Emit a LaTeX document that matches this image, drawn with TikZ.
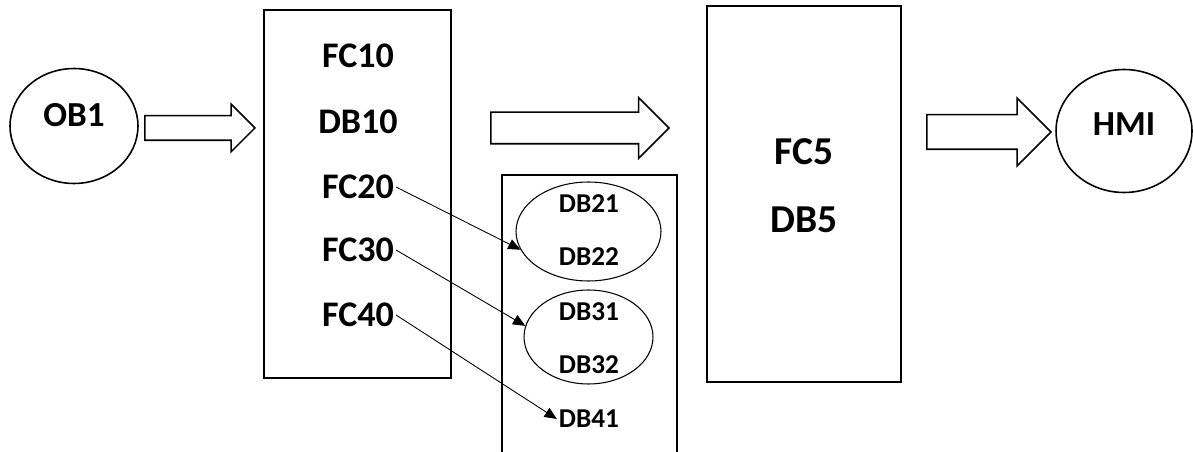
\documentclass[tikz,border=0pt]{standalone}
\usepackage{fontspec}
\setmainfont{Carlito}
\usetikzlibrary{shapes.geometric,shapes.arrows,arrows.meta,positioning}
\tikzset{
  blockbox/.style={
    rectangle, draw, line width=1pt, inner sep=0pt
  },
  obellipse/.style={
    ellipse, draw, line width=0.9pt, inner sep=0pt,
    font=\fontsize{20}{24}\selectfont\bfseries
  },
  dbgroup/.style={
    ellipse, draw, line width=0.6pt, inner sep=0pt
  },
  fclabel/.style={
    inner sep=1pt, font=\fontsize{20.5}{24}\selectfont\bfseries
  },
  dblabel/.style={
    inner sep=1pt, font=\fontsize{15.5}{18}\selectfont\bfseries
  },
  biglabel/.style={
    inner sep=1pt, font=\fontsize{22.5}{26}\selectfont\bfseries
  },
  flowarrow/.style={
    single arrow, draw, line width=0.9pt, inner xsep=0pt,
    minimum width=0pt, anchor=tip
  },
  callarrow/.style={-{Triangle[length=7pt,width=6pt]}, line width=0.5pt}
}

\begin{document}
\begin{tikzpicture}[x=0.02cm, y=-0.02cm]
  \clip (0,0) rectangle (1193,452);

  % Blocks
  \node[obellipse, minimum width=2.56cm, minimum height=2.3cm, text depth=0.44cm] (ob1) at (74,126) {OB1};
  \node[blockbox, minimum width=3.74cm, minimum height=7.36cm] (main) at (357.5,194) {};
  \node[blockbox, minimum width=3.5cm, minimum height=5.9cm] (dbbox) at (589.5,322.5) {};
  \node[blockbox, minimum width=3.88cm, minimum height=7.52cm] (fc5box) at (804,194) {};
  \node[obellipse, minimum width=2.72cm, minimum height=2.46cm, text depth=0.28cm] (hmi) at (1124,131) {HMI};

  % Contents of the main block
  \node[fclabel] (fc10) at (358,56) {FC10};
  \node[fclabel] (db10) at (358,122) {DB10};
  \node[fclabel] (fc20) at (358,187) {FC20};
  \node[fclabel] (fc30) at (358,250) {FC30};
  \node[fclabel] (fc40) at (358,315) {FC40};

  % Data blocks
  \node[dbgroup, minimum width=2.9cm, minimum height=1.98cm] (dbA) at (588.5,231.5) {};
  \node[dbgroup, minimum width=2.58cm, minimum height=1.88cm] (dbB) at (588.5,337) {};
  \node[dblabel] (db21) at (589,204) {DB21};
  \node[dblabel] (db22) at (589,257) {DB22};
  \node[dblabel] (db31) at (589,312) {DB31};
  \node[dblabel] (db32) at (589,365) {DB32};
  \node[dblabel] (db41) at (589,419) {DB41};

  \node[biglabel] (fc5) at (804,152) {FC5};
  \node[biglabel] (db5) at (804,220) {DB5};

  % Flow arrows
  \node[flowarrow, minimum height=2.2cm, inner ysep=0.23cm,
        single arrow head extend=0.23cm] (flow1) at (256,128) {};
  \node[flowarrow, minimum height=3.56cm, inner ysep=0.3cm,
        single arrow head extend=0.29cm] (flow2) at (670,128) {};
  \node[flowarrow, minimum height=2.48cm, inner ysep=0.33cm,
        single arrow head extend=0.33cm] (flow3) at (1052,132) {};

  % Calls
  \draw[callarrow] (fc20.east) -- (dbA.195);
  \draw[callarrow] (fc30.east) -- (dbB.170);
  \draw[callarrow] (fc40.east) -- (db41.west);
\end{tikzpicture}
\end{document}
